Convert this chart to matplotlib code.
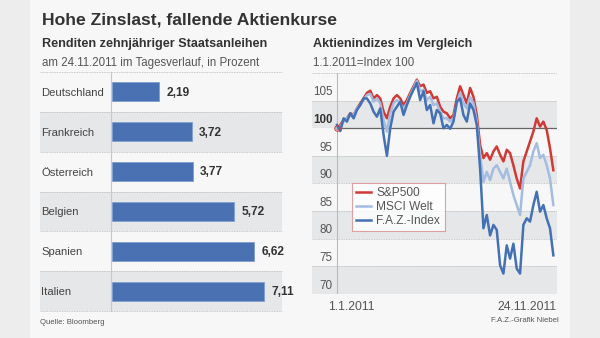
import matplotlib
matplotlib.use('Agg')
import matplotlib.pyplot as plt
import numpy as np

plt.rcParams['font.family'] = ['Liberation Sans', 'DejaVu Sans']

# left panel: 10-year government bond yields
countries = ['Deutschland', 'Frankreich', 'Österreich', 'Belgien', 'Spanien', 'Italien']
yields = [2.19, 3.72, 3.77, 5.72, 6.62, 7.11]
yield_labels = ['2,19', '3,72', '3,77', '5,72', '6,62', '7,11']

# right panel: stock indices, 1.1.2011 = 100
sp500 = [100.0, 100.6, 101.5, 101.8, 102.7, 102.4, 103.6, 104.5, 105.4, 106.4,
         106.8, 105.4, 106.0, 105.4, 103.0, 101.8, 103.9, 105.4, 106.0, 105.4,
         104.2, 105.1, 106.4, 107.6, 108.8, 107.6, 107.9, 106.4, 106.7, 105.4,
         105.7, 103.9, 103.0, 102.7, 101.8, 102.4, 105.4, 107.6, 106.0, 104.5,
         107.3, 105.7, 102.4, 97.0, 94.6, 95.5, 94.3, 95.8, 96.7, 95.2,
         94.0, 96.1, 95.5, 93.3, 90.9, 89.1, 94.0, 95.8, 97.6, 99.4,
         101.8, 100.3, 101.2, 99.7, 96.4, 92.4]
msci = [100.1, 100.3, 101.2, 101.8, 102.4, 102.4, 103.6, 104.2, 105.1, 106.0,
        106.2, 104.8, 105.4, 104.5, 101.5, 99.4, 102.7, 104.5, 105.1, 104.5,
        103.6, 104.5, 106.0, 107.3, 108.6, 106.7, 107.0, 105.1, 105.7, 104.2,
        104.5, 103.0, 101.8, 101.8, 101.2, 101.8, 104.5, 106.4, 104.5, 103.6,
        105.7, 104.5, 101.2, 95.2, 90.3, 92.1, 90.6, 92.7, 93.3, 92.1,
        90.9, 92.7, 90.3, 87.9, 86.1, 84.3, 90.9, 92.1, 93.3, 95.8,
        97.3, 94.6, 95.2, 93.3, 90.9, 86.1]
faz = [100.6, 99.5, 101.8, 101.2, 102.7, 101.8, 103.3, 104.2, 105.4, 105.4,
       104.5, 103.0, 102.1, 103.6, 98.8, 95.0, 100.0, 103.0, 103.9, 104.8,
       102.4, 104.2, 105.7, 107.0, 108.2, 105.1, 106.7, 103.3, 104.2, 100.9,
       103.3, 102.7, 100.0, 100.6, 99.9, 101.2, 104.8, 105.4, 102.4, 101.2,
       104.5, 103.3, 100.6, 92.7, 81.9, 84.3, 80.6, 82.5, 81.6, 75.2,
       73.7, 78.8, 76.4, 79.1, 74.6, 73.7, 82.5, 83.7, 83.1, 86.1,
       88.5, 84.9, 86.1, 83.7, 81.9, 77.0]
y_ticks = [70, 75, 80, 85, 90, 95, 100, 105]

W, H = 600, 338
BG = '#f7f7f7'
OUTER = '#ededed'
BAND = '#e6e7e8'
GRID = '#b8b8b8'
TXT = '#333333'
SUB = '#555555'
BAR = '#4a72b2'
RED = '#d03a36'
LIGHT = '#a4bce0'
BLUE = '#4470b4'


def fig_rect(x0, y0, x1, y1):
    # pixel box (top-left origin) -> figure fraction
    return [x0 / W, 1 - y1 / H, (x1 - x0) / W, (y1 - y0) / H]


fig = plt.figure(figsize=(W / 100, H / 100), dpi=100, facecolor=OUTER)

# background canvas in pixel coordinates
bg = fig.add_axes([0, 0, 1, 1])
bg.set_xlim(0, W)
bg.set_ylim(H, 0)
bg.axis('off')
bg.add_patch(plt.Rectangle((30, 0), 540, H, color=BG, lw=0))

bg.text(42, 20, 'Hohe Zinslast, fallende Aktienkurse', fontsize=12.6,
        fontweight='bold', color=TXT, va='center')
bg.text(42, 44, 'Renditen zehnjähriger Staatsanleihen', fontsize=9.1,
        fontweight='bold', color=TXT, va='center')
bg.text(42, 63, 'am 24.11.2011 im Tagesverlauf, in Prozent', fontsize=8.3,
        color=SUB, va='center')
bg.text(313, 44, 'Aktienindizes im Vergleich', fontsize=9.1,
        fontweight='bold', color=TXT, va='center')
bg.text(313, 63, '1.1.2011=Index 100', fontsize=8.3, color=SUB, va='center')
bg.text(40, 322, 'Quelle: Bloomberg', fontsize=5.6, color=SUB, va='center')
bg.text(559, 321, 'F.A.Z.-Grafik Niebel', fontsize=5.6, color=SUB,
        va='center', ha='right')

# left panel rows
top, bottom = 72, 311
row_h = (bottom - top) / len(countries)
for i, name in enumerate(countries):
    y0 = top + i * row_h
    if i % 2 == 1:
        bg.add_patch(plt.Rectangle((40, y0), 242, row_h, color=BAND, lw=0))
    bg.plot([40, 282], [y0, y0], color=GRID, lw=0.6, ls=(0, (1, 1)))
    bg.text(41, y0 + row_h / 2 + 1, name, fontsize=8.1, color='#444444',
            va='center')
bg.plot([40, 282], [bottom, bottom], color=GRID, lw=0.6, ls=(0, (1, 1)))
bg.plot([111, 111], [top, bottom], color='#c8c8c8', lw=0.8)

axb = fig.add_axes(fig_rect(111, top, 282, bottom))
axb.patch.set_alpha(0)
ypos = np.arange(len(countries))
axb.barh(ypos, yields, height=0.48, left=0.05, color=BAR,
         edgecolor='#7f9fd0', lw=0.6)
for yp, v, lab in zip(ypos, yields, yield_labels):
    axb.text(v + 0.4, yp + 0.02, lab, fontsize=8.6, fontweight='bold',
             color=TXT, va='center')
axb.set_xlim(0, 171 / 21.4)
axb.set_ylim(len(countries) - 0.5, -0.5)
axb.axis('off')

# right panel
ax = fig.add_axes(fig_rect(312, 73, 557, 294))
ax.patch.set_alpha(0)
x = np.arange(len(sp500))
x_right = len(sp500)
ax.set_xlim(-7.5, x_right + 0.1)
ax.set_ylim(70, 110)
for lo in (70, 80, 90, 100):
    ax.axhspan(lo, lo + 5, color=BAND, lw=0)
for t in y_ticks + [110]:
    if t != 100:
        ax.axhline(t, color=GRID, lw=0.6, ls=(0, (1, 1)))
ax.plot([0, x_right + 0.1], [100, 100], color='#666666', lw=0.9, zorder=1)
ax.plot([0, 0], [70, 110], color='#bbbbbb', lw=0.8)
ax.plot([x_right, x_right], [70, 110], color=GRID, lw=0.6, ls=(0, (1, 1)))
for t in y_ticks:
    ax.text(-1.3, t + 1.5, str(t), fontsize=8.4, ha='right', va='center',
            color=TXT if t == 100 else SUB,
            fontweight='bold' if t == 100 else 'normal')

ax.plot(x, sp500, color=RED, lw=1.8, label='S&P500', zorder=3)
ax.plot(x, msci, color=LIGHT, lw=1.8, label='MSCI Welt', zorder=4)
ax.plot(x, faz, color=BLUE, lw=1.8, label='F.A.Z.-Index', zorder=5)
ax.plot([0], [100], marker='o', ms=4, mfc='none', mec=RED, mew=0.7, zorder=6)

leg = ax.legend(loc='upper left', bbox_to_anchor=(40 / 245, 111 / 221),
                frameon=True, fontsize=8.6, handlelength=1.2, handletextpad=0.5,
                borderpad=0.35, labelspacing=0.15, fancybox=False,
                borderaxespad=0)
leg.get_frame().set_edgecolor('#d98c8c')
leg.get_frame().set_facecolor('white')
leg.get_frame().set_linewidth(0.8)
for txt in leg.get_texts():
    txt.set_color(SUB)

ax.axis('off')

bg.text(351, 307, '1.1.2011', fontsize=8.8, color=SUB, ha='center', va='center')
bg.text(557, 307, '24.11.2011', fontsize=8.8, color=SUB, ha='right', va='center')

fig.savefig('out.png', dpi=100, facecolor=fig.get_facecolor())
